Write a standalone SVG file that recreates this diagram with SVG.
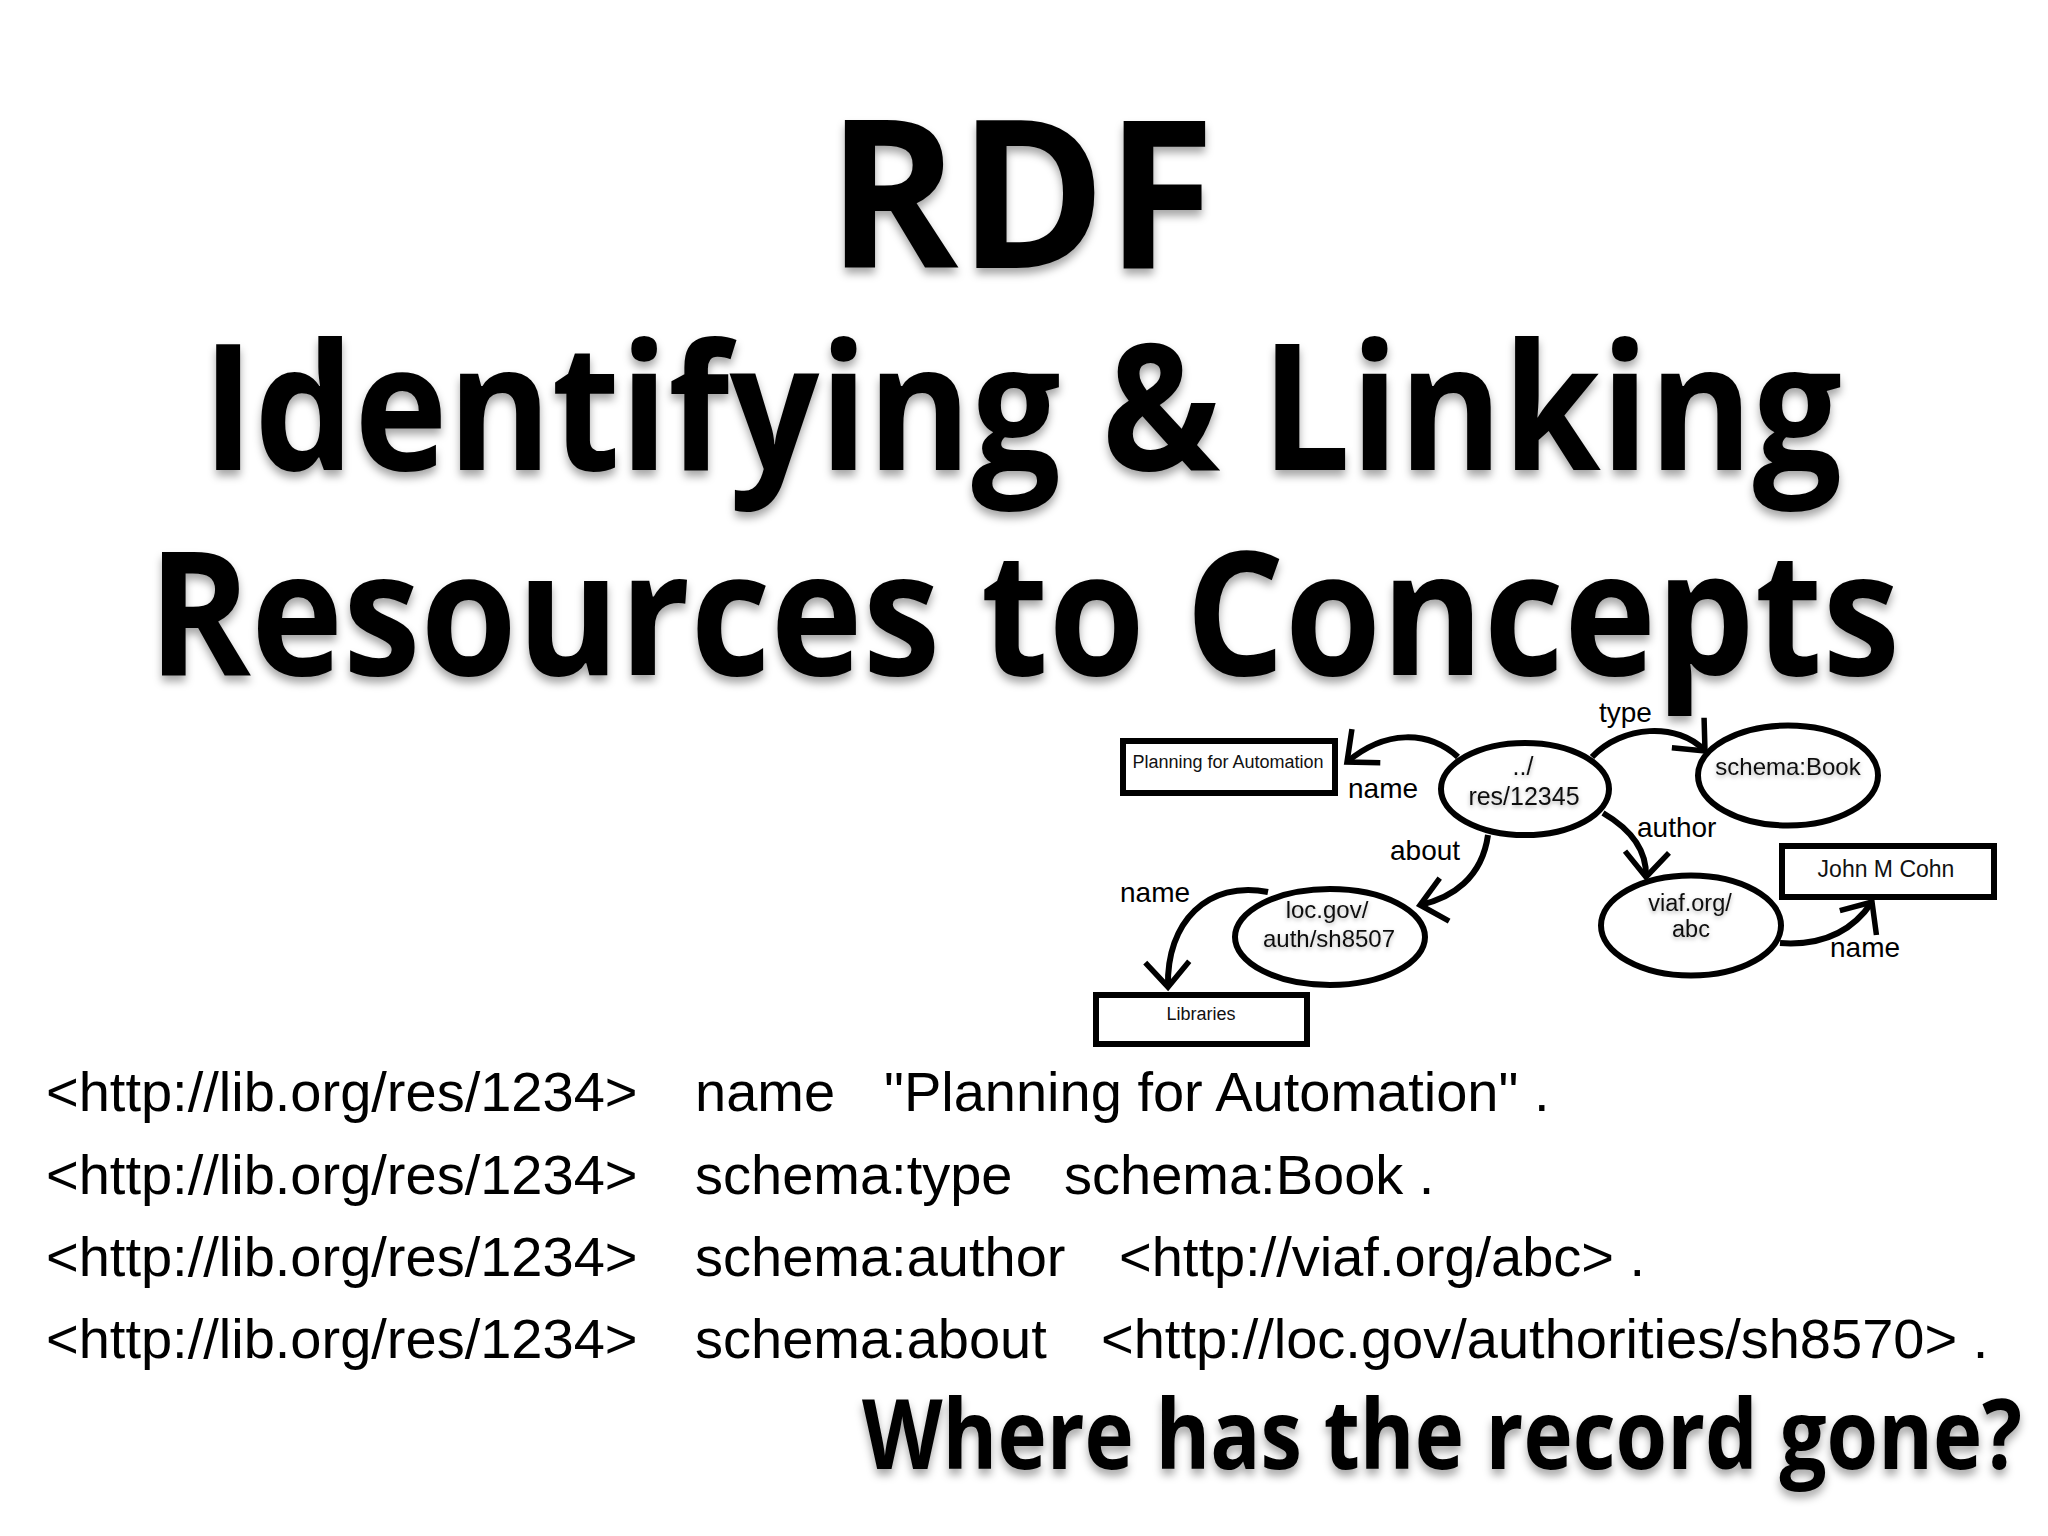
<svg xmlns="http://www.w3.org/2000/svg" width="2048" height="1536" viewBox="0 0 2048 1536">
<defs>
<filter id="sh" x="-5%" y="-30%" width="110%" height="170%">
<feDropShadow dx="0" dy="6" stdDeviation="4" flood-color="#000" flood-opacity="0.35"/>
</filter>
<filter id="tsh" x="-10%" y="-30%" width="120%" height="170%">
<feDropShadow dx="0" dy="2" stdDeviation="2" flood-color="#000" flood-opacity="0.3"/>
</filter>
<marker id="arr" markerUnits="userSpaceOnUse" markerWidth="60" markerHeight="60" viewBox="-40 -30 50 60" refX="0" refY="0" orient="auto">
<path d="M -25 -22 L 0 0 L -25 22" fill="none" stroke="#000" stroke-width="5.5" stroke-linecap="butt" stroke-linejoin="miter"/>
</marker>
<style>
.title{font-family:"Open Sans","Liberation Sans",sans-serif;font-weight:700;fill:#000}
.trip{font-family:"Liberation Sans",Arial,sans-serif;font-size:56px;fill:#000}
.node{fill:#fff;stroke:#000;stroke-width:6}
.nt{font-family:"Liberation Sans",Arial,sans-serif;fill:#111;text-anchor:middle}
.lbl{font-family:"Liberation Sans",Arial,sans-serif;font-size:28px;fill:#000}
.edge{fill:none;stroke:#000;stroke-width:6;marker-end:url(#arr)}
</style>
</defs>
<rect width="2048" height="1536" fill="#fff"/>
<g id="titles">
<text class="title" x="827" y="268" font-size="207" textLength="388" lengthAdjust="spacingAndGlyphs" filter="url(#sh)">RDF</text>
<text class="title" x="202" y="470" font-size="176" textLength="1640" lengthAdjust="spacingAndGlyphs" filter="url(#sh)">Identifying &amp; Linking</text>
<text class="title" x="148" y="675" font-size="172" textLength="1752" lengthAdjust="spacingAndGlyphs" filter="url(#sh)">Resources to Concepts</text>
<text class="title" x="862" y="1469" font-size="97" textLength="1160" lengthAdjust="spacingAndGlyphs" filter="url(#sh)">Where has the record gone?</text>
</g>
<g id="connectors">
<path class="edge" d="M1458,757 C1428,730 1385,730 1347,762"/>
<path class="edge" d="M1592,757 C1622,725 1678,722 1705,751"/>
<path class="edge" d="M1603,813 C1632,830 1647,852 1646,877"/>
<path class="edge" d="M1488,835 C1482,878 1452,898 1420,905"/>
<path class="edge" d="M1268,892 C1208,880 1166,922 1168,987"/>
<path class="edge" d="M1780,943 C1822,946 1852,932 1872,902"/>
</g>
<g id="labels" class="lbl">
<text x="1348" y="798">name</text>
<text x="1599" y="722">type</text>
<text x="1637" y="837">author</text>
<text x="1390" y="860">about</text>
<text x="1120" y="902">name</text>
<text x="1830" y="957">name</text>
</g>
<g id="node-planning">
<rect class="node" x="1123" y="741" width="212" height="52"/>
<text class="nt" x="1228" y="768" font-size="18">Planning for Automation</text>
</g>
<g id="node-res">
<ellipse class="node" cx="1525" cy="789" rx="84" ry="46"/>
<text class="nt" x="1523" y="775" font-size="25" filter="url(#tsh)">../</text>
<text class="nt" x="1524" y="805" font-size="25" filter="url(#tsh)">res/12345</text>
</g>
<g id="node-book">
<ellipse class="node" cx="1788" cy="775.5" rx="90" ry="50"/>
<text class="nt" x="1788" y="775" font-size="24" filter="url(#tsh)">schema:Book</text>
</g>
<g id="node-viaf">
<ellipse class="node" cx="1691" cy="925.5" rx="90" ry="50"/>
<text class="nt" x="1690" y="911" font-size="23.5" filter="url(#tsh)">viaf.org/</text>
<text class="nt" x="1691" y="937" font-size="23.5" filter="url(#tsh)">abc</text>
</g>
<g id="node-john">
<rect class="node" x="1782" y="846" width="212" height="51"/>
<text class="nt" x="1886" y="877" font-size="23">John M Cohn</text>
</g>
<g id="node-loc">
<ellipse class="node" cx="1330" cy="937" rx="95" ry="48"/>
<text class="nt" x="1327" y="918" font-size="24" filter="url(#tsh)">loc.gov/</text>
<text class="nt" x="1329" y="947" font-size="24" filter="url(#tsh)">auth/sh8507</text>
</g>
<g id="node-libraries">
<rect class="node" x="1096" y="995" width="211" height="49"/>
<text class="nt" x="1201" y="1020" font-size="18">Libraries</text>
</g>
<g id="triples" class="trip">
<text x="46" y="1111">&lt;http://lib.org/res/1234&gt;</text>
<text x="695" y="1111">name</text>
<text x="884" y="1111">"Planning for Automation" .</text>
<text x="46" y="1194">&lt;http://lib.org/res/1234&gt;</text>
<text x="695" y="1194">schema:type</text>
<text x="1064" y="1194">schema:Book .</text>
<text x="46" y="1276">&lt;http://lib.org/res/1234&gt;</text>
<text x="695" y="1276">schema:author</text>
<text x="1119" y="1276">&lt;http://viaf.org/abc&gt; .</text>
<text x="46" y="1358">&lt;http://lib.org/res/1234&gt;</text>
<text x="695" y="1358">schema:about</text>
<text x="1101" y="1358">&lt;http://loc.gov/authorities/sh8570&gt; .</text>
</g>
</svg>
